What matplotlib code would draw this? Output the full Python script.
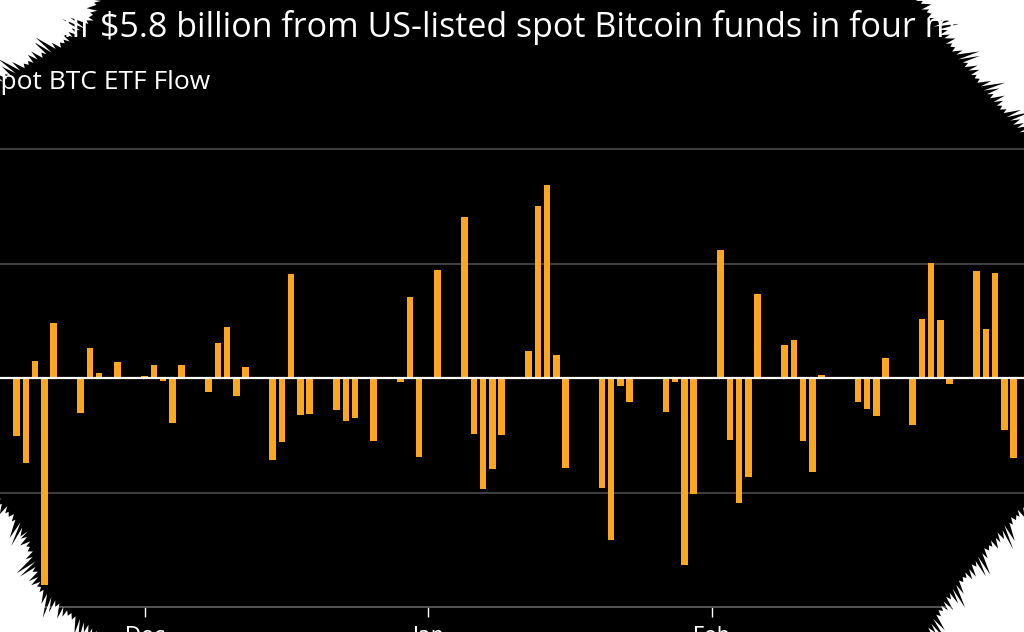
import matplotlib
matplotlib.use('Agg')
import matplotlib.pyplot as plt
import matplotlib.dates as mdates
from matplotlib.patches import Polygon
import numpy as np
import pandas as pd

# daily spot BTC ETF net flow, $ millions
dates = ['2025-11-17', '2025-11-18', '2025-11-19', '2025-11-20', '2025-11-21',
         '2025-11-24', '2025-11-25', '2025-11-26', '2025-11-28',
         '2025-12-01', '2025-12-02', '2025-12-03', '2025-12-04', '2025-12-05',
         '2025-12-08', '2025-12-09', '2025-12-10', '2025-12-11', '2025-12-12',
         '2025-12-15', '2025-12-16', '2025-12-17', '2025-12-18', '2025-12-19',
         '2025-12-22', '2025-12-23', '2025-12-24', '2025-12-26',
         '2025-12-29', '2025-12-30', '2025-12-31', '2026-01-02',
         '2026-01-05', '2026-01-06', '2026-01-07', '2026-01-08', '2026-01-09',
         '2026-01-12', '2026-01-13', '2026-01-14', '2026-01-15', '2026-01-16',
         '2026-01-20', '2026-01-21', '2026-01-22', '2026-01-23',
         '2026-01-26', '2026-01-27', '2026-01-28', '2026-01-29', '2026-01-30',
         '2026-02-02', '2026-02-03', '2026-02-04', '2026-02-05', '2026-02-06',
         '2026-02-09', '2026-02-10', '2026-02-11', '2026-02-12', '2026-02-13',
         '2026-02-17', '2026-02-18', '2026-02-19', '2026-02-20',
         '2026-02-23', '2026-02-24', '2026-02-25', '2026-02-26', '2026-02-27',
         '2026-03-02', '2026-03-03', '2026-03-04', '2026-03-05', '2026-03-06']
flows = [-254, -372, 75, -903, 238,
         -151, 129, 21, 70,
         8, 58, -15, -195, 55,
         -60, 152, 223, -77, 48,
         -358, -278, 455, -161, -159,
         -140, -188, -175, -275,
         -19, 354, -347, 470,
         705, -245, -485, -398, -250,
         116, 752, 843, 99, -394,
         -480, -708, -34, -103,
         6, -147, -19, -817, -508,
         560, -272, -545, -434, 368,
         145, 166, -275, -409, 15,
         -103, -134, -166, 88,
         -205, 258, 503, 253, -27,
         469, 213, 460, -227, -348]
month_ticks = ['2025-12-01', '2026-01-01', '2026-02-01', '2026-03-01']
month_labels = ['Dec', 'Jan', 'Feb', 'Mar']

title_cut = 'Investors pull '
title_main = '$5.8 billion from US-listed spot Bitcoin funds in four months'
subtitle = 'Spot BTC ETF Flow'

W, H = 1024, 632
ORANGE = '#FBA61E'
GRID = '#4b4b4b'

fig = plt.figure(figsize=(W / 100, H / 100), dpi=100, facecolor='black')

# layout in pixels: zero line at y=378, 114.5 px per $500M, bottom axis at -1000
px_per_m = 114.5 / 500
y_lo, y_hi = -1000, 1100
ax_bot = 607
ax_top = 378 - y_hi * px_per_m
ax = fig.add_axes([0, (H - ax_bot) / H, 1, (ax_bot - ax_top) / H])
ax.set_facecolor('black')

px_per_day = 9.143
dec1 = mdates.date2num(pd.Timestamp('2025-12-01'))
dec1_px = 144.8
ax.set_xlim(dec1 - dec1_px / px_per_day, dec1 + (W - dec1_px) / px_per_day)
ax.set_ylim(y_lo, y_hi)

ax.bar(pd.to_datetime(dates), flows, width=0.73, color=ORANGE, zorder=2)
ax.axhline(0, color='white', lw=1.6, zorder=3)

ax.set_yticks([-500, 500, 1000])
ax.yaxis.grid(True, color=GRID, lw=1.2)
ax.tick_params(axis='y', left=False, labelleft=False)
for s in ['top', 'left', 'right']:
    ax.spines[s].set_visible(False)
ax.spines['bottom'].set_color('#5a5a5a')
ax.spines['bottom'].set_linewidth(1.3)

ax.set_xticks(pd.to_datetime(month_ticks))
ax.set_xticklabels(month_labels)
ax.tick_params(axis='x', direction='out', length=7, width=1, color='white',
               labelcolor='white', labelsize=15, pad=7)

fig.text(98 / W, 1 - 37 / H, title_cut, color='white', fontsize=24.5,
         family='Open Sans', ha='right', va='baseline')
fig.text(100 / W, 1 - 37 / H, title_main, color='white', fontsize=24.5,
         family='Open Sans', ha='left', va='baseline')
fig.text(-14 / W, 1 - 89 / H, subtitle, color='white', fontsize=19,
         family='Open Sans', ha='left', va='baseline')

# torn paper corners drawn on top in pixel coordinates
ov = fig.add_axes([0, 0, 1, 1], zorder=10)
ov.set_xlim(0, W)
ov.set_ylim(H, 0)
ov.axis('off')
ov.patch.set_alpha(0)


def torn_corner(edge, corner, step=2.5):
    edge = np.array(edge, float)
    cx, cy = np.mean(np.array(corner, float), axis=0)
    pts = []
    k = 0
    for (x0, y0), (x1, y1) in zip(edge[:-1], edge[1:]):
        dx, dy = x1 - x0, y1 - y0
        L = np.hypot(dx, dy)
        tx, ty = dx / L, dy / L
        nx, ny = -ty, tx
        if (cx - x0) * nx + (cy - y0) * ny < 0:
            nx, ny = -nx, -ny
        n = max(int(L / step), 1)
        for j in range(n):
            t = j / n
            x, y = x0 + t * dx, y0 + t * dy
            if k % 2:
                a = 2 + 20 * abs(np.sin(k * 1.37) * np.cos(k * 0.41 + 0.5)) ** 1.5
                s = 0.5 * a
            else:
                a = -3 * abs(np.sin(k * 0.77))
                s = 0
            pts.append((x + nx * a + tx * s, y + ny * a + ty * s))
            k += 1
    pts.append(tuple(edge[-1]))
    ov.add_patch(Polygon(pts + list(corner), closed=True, facecolor='white',
                         edgecolor='none'))


torn_corner([(100, -5), (90, 22), (62, 44), (30, 62), (-5, 84)], [(-5, -5)])
torn_corner([(915, -5), (948, 42), (990, 95), (1030, 140)], [(1030, -5)])
torn_corner([(-5, 496), (25, 532), (40, 590), (66, 612), (106, 640)], [(-5, 640)])
torn_corner([(1030, 500), (988, 548), (948, 598), (924, 640)], [(1030, 640)])

fig.savefig('out.png', dpi=100, facecolor='black')
